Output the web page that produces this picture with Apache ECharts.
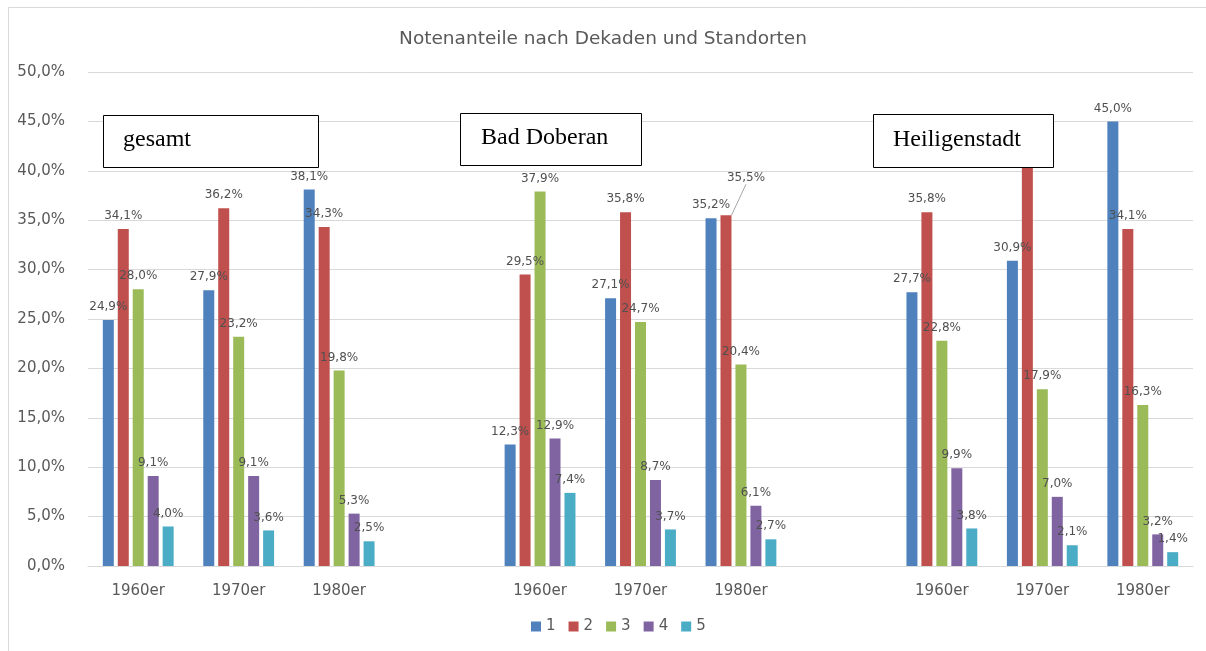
<!DOCTYPE html>
<html>
<head>
<meta charset="utf-8">
<title>Notenanteile nach Dekaden und Standorten</title>
<script src="https://cdn.jsdelivr.net/npm/echarts@6/dist/echarts.min.js"></script>
<style>
  html, body { margin: 0; padding: 0; background: #fff; }
  #chart { width: 1206px; height: 651px; }
</style>
</head>
<body>
<div id="chart"></div>
<script>
// Werte (in %), je Note: gesamt 60/70/80, Bad Doberan 60/70/80, Heiligenstadt 60/70/80
const decades = ['1960er', '1970er', '1980er']
const sites = ['gesamt', 'Bad Doberan', 'Heiligenstadt']
const grades = ['1', '2', '3', '4', '5']
const note1 = [24.9, 27.9, 38.1, 12.3, 27.1, 35.2, 27.7, 30.9, 45.0]
const note2 = [34.1, 36.2, 34.3, 29.5, 35.8, 35.5, 35.8, 42.1, 34.1]
const note3 = [28.0, 23.2, 19.8, 37.9, 24.7, 20.4, 22.8, 17.9, 16.3]
const note4 = [9.1, 9.1, 5.3, 12.9, 8.7, 6.1, 9.9, 7.0, 3.2]
const note5 = [4.0, 3.6, 2.5, 7.4, 3.7, 2.7, 3.8, 2.1, 1.4]
const yTicks = [0, 5, 10, 15, 20, 25, 30, 35, 40, 45, 50]

const colors = ['#4f81bd', '#c0504d', '#9bbb59', '#8064a2', '#4bacc6']
const font = 'DejaVu Sans'
const grey = '#595959'

// Kategorien mit einer Leerspalte zwischen den Standorten
const categories = []
sites.forEach((s, i) => {
  if (i > 0) categories.push('')
  decades.forEach(d => categories.push(d))
})

function withGaps(arr) {
  const out = []
  arr.forEach((v, i) => {
    if (i > 0 && i % 3 === 0) out.push(null)
    out.push(v)
  })
  return out
}

const fmt = v => v.toFixed(1).replace('.', ',') + '%'

const series = [note1, note2, note3, note4, note5].map((arr, k) => {
  const data = withGaps(arr).map((v, idx) => {
    // Bad Doberan 1980er, Note 2: Beschriftung mit Führungslinie
    if (k === 1 && idx === 6) {
      return { value: v, labelLine: { show: true, lineStyle: { color: '#a6a6a6', width: 1 } } }
    }
    return v
  })
  return {
    name: grades[k],
    type: 'bar',
    barWidth: 11,
    barGap: '36%',
    data: data,
    itemStyle: { color: colors[k] },
    label: {
      show: true,
      position: 'top',
      distance: 7,
      fontFamily: font,
      fontSize: 12,
      color: '#505050',
      formatter: p => (p.value == null ? '' : fmt(p.value))
    },
    labelLayout: function (params) {
      if (params.seriesIndex === 1 && params.dataIndex === 6) {
        return { dx: 20, dy: -24 }
      }
      return {}
    }
  }
})

// Textfelder für die Standorte
const boxes = [
  { name: sites[0], x: 103, y: 115, w: 215, h: 52, tx: 123 },
  { name: sites[1], x: 460, y: 113, w: 181, h: 52, tx: 481 },
  { name: sites[2], x: 873, y: 114, w: 180, h: 53, tx: 893 }
]
const graphics = [
  {
    type: 'rect',
    z: -1,
    shape: { x: 8.5, y: 7.5, width: 1220, height: 680 },
    style: { fill: 'none', stroke: '#d9d9d9', lineWidth: 1 }
  }
]
boxes.forEach(b => {
  graphics.push({
    type: 'rect',
    z: 100,
    shape: { x: b.x + 0.5, y: b.y + 0.5, width: b.w, height: b.h },
    style: { fill: '#fff', stroke: '#000', lineWidth: 1 }
  })
  graphics.push({
    type: 'text',
    z: 101,
    x: b.tx,
    y: b.y + b.h / 2 - 1,
    style: {
      text: b.name,
      fontFamily: 'Liberation Serif',
      fontSize: 24,
      fill: '#000',
      verticalAlign: 'middle'
    }
  })
})

const chart = echarts.init(document.getElementById('chart'))
chart.setOption({
  animation: false,
  color: colors,
  title: {
    text: 'Notenanteile nach Dekaden und Standorten',
    left: 'center',
    top: 25,
    textStyle: { fontFamily: font, fontSize: 18.5, fontWeight: 'normal', color: grey }
  },
  legend: {
    data: grades,
    bottom: 12,
    left: 526,
    icon: 'rect',
    itemWidth: 10,
    itemHeight: 10,
    itemGap: 13,
    textStyle: { fontFamily: font, fontSize: 15, color: grey }
  },
  grid: { left: 88, right: 13, top: 72, bottom: 85, containLabel: false },
  xAxis: {
    type: 'category',
    data: categories,
    axisLine: { lineStyle: { color: '#d9d9d9' } },
    axisTick: { show: false },
    axisLabel: { fontFamily: font, fontSize: 15, color: grey, margin: 18 }
  },
  yAxis: {
    type: 'value',
    min: yTicks[0],
    max: yTicks[yTicks.length - 1],
    interval: yTicks[1] - yTicks[0],
    axisLine: { show: false },
    axisTick: { show: false },
    splitLine: { lineStyle: { color: '#d9d9d9' } },
    axisLabel: { fontFamily: font, fontSize: 15, color: grey, margin: 23, formatter: v => fmt(v) }
  },
  graphic: graphics,
  series: series
})
</script>
</body>
</html>
